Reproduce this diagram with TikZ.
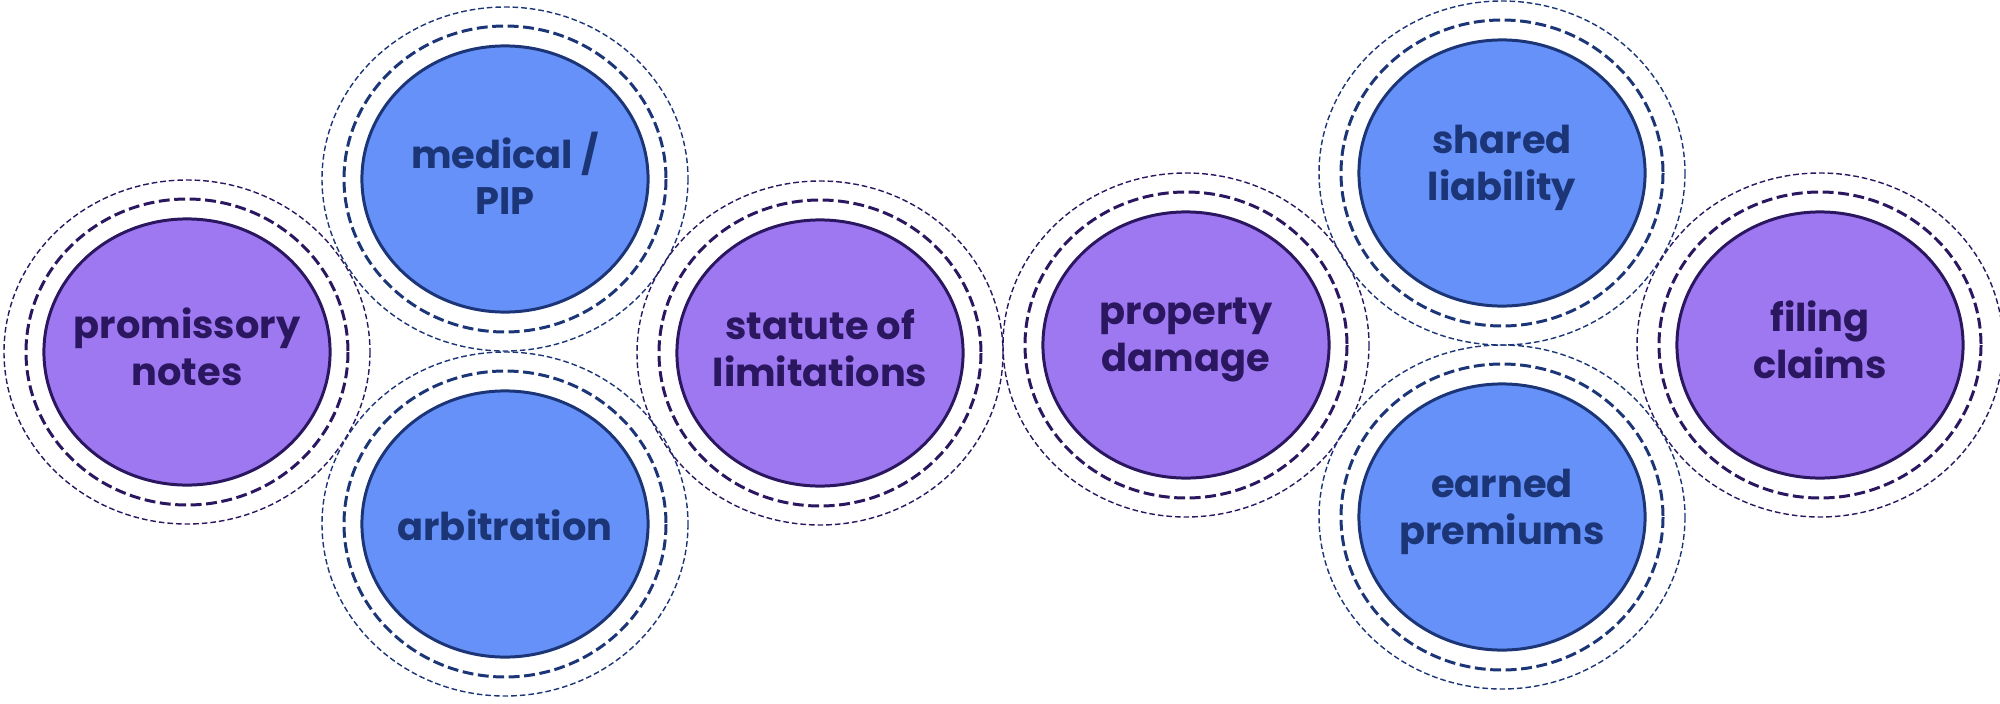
\documentclass[tikz,border=0pt]{standalone}
\usepackage{fontspec}
\setmainfont{Poppins}
\usetikzlibrary{shapes.geometric}
\definecolor{purpleFill}{HTML}{9E78F1}
\definecolor{purpleDark}{HTML}{2B1760}
\definecolor{blueFill}{HTML}{6691F8}
\definecolor{blueDark}{HTML}{1B3577}
\tikzset{
  bubble/.style={ellipse, minimum width=2.86cm, minimum height=2.66cm, inner sep=0pt,
    line width=0.85pt},
  pbubble/.style={bubble, fill=purpleFill, draw=purpleDark},
  bbubble/.style={bubble, fill=blueFill, draw=blueDark},
  btext/.style={align=center, inner sep=0pt,
    font=\fontsize{10.9pt}{13.3pt}\selectfont\bfseries},
  ptext/.style={btext, text=purpleDark},
  bltext/.style={btext, text=blueDark},
  midring/.style={line width=0.85pt, dash pattern=on 3.1pt off 1.3pt},
  outring/.style={line width=0.4pt, dash pattern=on 1.6pt off 0.85pt},
}
\begin{document}
\begin{tikzpicture}[x=0.01cm, y=-0.01cm]
\useasboundingbox (0,0) rectangle (2000,703);
\coordinate (c1) at (187,352);
\coordinate (c2) at (505,179);
\coordinate (c3) at (505,524);
\coordinate (c4) at (820,353);
\coordinate (c5) at (1186,345);
\coordinate (c6) at (1502,173);
\coordinate (c7) at (1502,517);
\coordinate (c8) at (1820,345);
% rings
\foreach \c/\col in {c1/purpleDark,c2/blueDark,c3/blueDark,c4/purpleDark,c5/purpleDark,c6/blueDark,c7/blueDark,c8/purpleDark}{
  \draw[outring, draw=\col] (\c) ellipse [x radius=183, y radius=172];
  \draw[midring, draw=\col] (\c) ellipse [x radius=161, y radius=153];
}
\node[pbubble] (promissory) at (c1) {};
\node[bbubble] (medical) at (c2) {};
\node[bbubble] (arbitration) at (c3) {};
\node[pbubble] (statute) at (c4) {};
\node[pbubble] (property) at (c5) {};
\node[bbubble] (shared) at (c6) {};
\node[bbubble] (earned) at (c7) {};
\node[pbubble] (filing) at (c8) {};
\node[ptext] (promissoryT) at ([yshift=1.4pt]promissory.center) {promissory\\notes};
\node[bltext] (medicalT) at ([yshift=1.6pt]medical.center) {medical /\\PIP};
\node[bltext] (arbitrationT) at ([yshift=-0.4pt]arbitration.center) {arbitration};
\node[ptext] (statuteT) at ([yshift=1.4pt]statute.center) {statute of\\limitations};
\node[ptext] (propertyT) at ([yshift=1.4pt]property.center) {property\\damage};
\node[bltext] (sharedT) at ([yshift=1.4pt]shared.center) {shared\\liability};
\node[bltext] (earnedT) at ([yshift=1.4pt]earned.center) {earned\\premiums};
\node[ptext] (filingT) at ([yshift=1.4pt]filing.center) {filing\\claims};
\end{tikzpicture}
\end{document}
